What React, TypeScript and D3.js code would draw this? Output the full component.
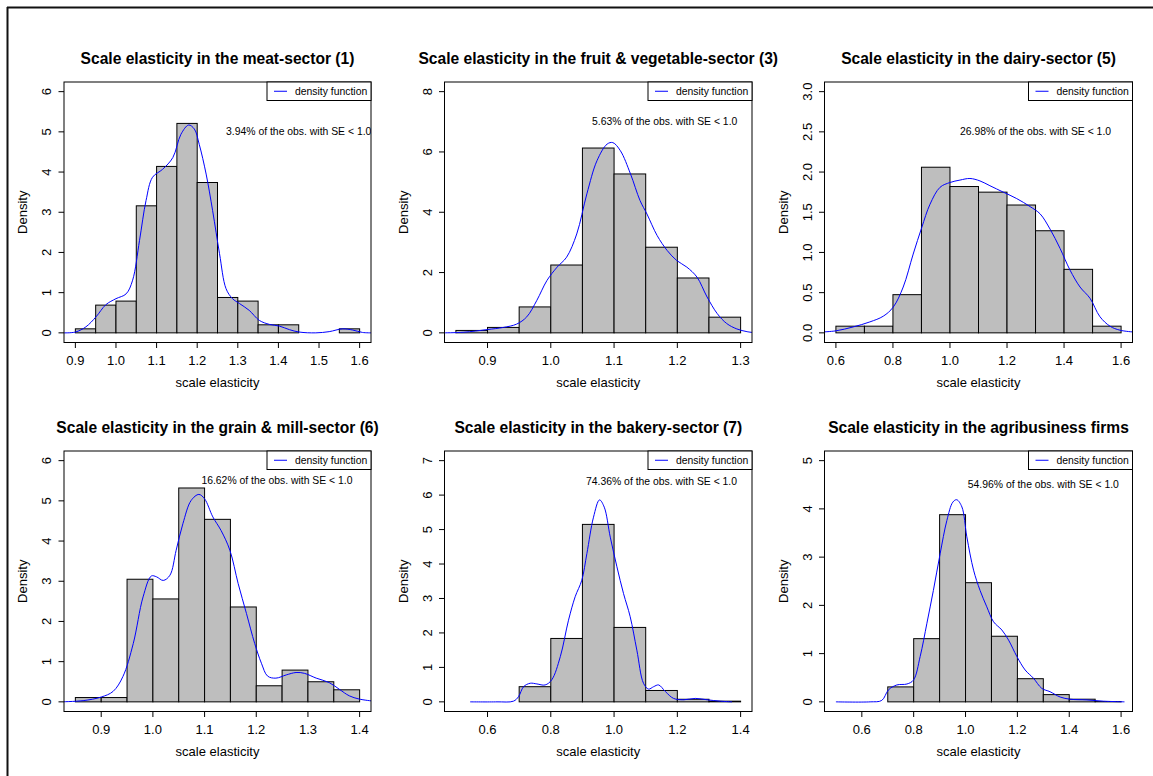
import React from 'react';
import * as d3 from 'd3';

// ---------- data ----------
const titles = [
  'Scale elasticity in the meat-sector (1)',
  'Scale elasticity in the fruit & vegetable-sector (3)',
  'Scale elasticity in the dairy-sector (5)',
  'Scale elasticity in the grain & mill-sector (6)',
  'Scale elasticity in the bakery-sector (7)',
  'Scale elasticity in the agribusiness firms',
];
const notes = [
  '3.94% of the obs. with SE < 1.0',
  '5.63% of the obs. with SE < 1.0',
  '26.98% of the obs. with SE < 1.0',
  '16.62% of the obs. with SE < 1.0',
  '74.36% of the obs. with SE < 1.0',
  '54.96% of the obs. with SE < 1.0',
];
const noteX = [1.45, 1.18, 1.3, 1.24, 1.15, 1.3];
const noteY = [5, 7, 2.5, 5.5, 6.4, 4.5];

const xLims = [[0.9, 1.6], [0.85, 1.3], [0.6, 1.6], [0.85, 1.4], [0.5, 1.4], [0.5, 1.6]];
const yLims = [[0, 6], [0, 8], [0, 3], [0, 6], [0, 7], [0, 5]];
const xTicks = [
  [0.9, 1.0, 1.1, 1.2, 1.3, 1.4, 1.5, 1.6],
  [0.9, 1.0, 1.1, 1.2, 1.3],
  [0.6, 0.8, 1.0, 1.2, 1.4, 1.6],
  [0.9, 1.0, 1.1, 1.2, 1.3, 1.4],
  [0.6, 0.8, 1.0, 1.2, 1.4],
  [0.6, 0.8, 1.0, 1.2, 1.4, 1.6],
];
const yTicks = [
  [0, 1, 2, 3, 4, 5, 6],
  [0, 2, 4, 6, 8],
  [0.0, 0.5, 1.0, 1.5, 2.0, 2.5, 3.0],
  [0, 1, 2, 3, 4, 5, 6],
  [0, 1, 2, 3, 4, 5, 6, 7],
  [0, 1, 2, 3, 4, 5],
];
const yTickFormats = ['d', 'd', '.1f', 'd', 'd', 'd'];

// histogram breaks (bin edges) and densities
const meatBreaks = [0.9, 0.95, 1.0, 1.05, 1.1, 1.15, 1.2, 1.25, 1.3, 1.35, 1.4, 1.45, 1.5, 1.55, 1.6];
const meatDensity = [0.1, 0.69, 0.79, 3.16, 4.14, 5.21, 3.74, 0.88, 0.79, 0.2, 0.2, 0, 0, 0.1];
const fruitBreaks = [0.85, 0.9, 0.95, 1.0, 1.05, 1.1, 1.15, 1.2, 1.25, 1.3];
const fruitDensity = [0.08, 0.18, 0.86, 2.25, 6.13, 5.27, 2.84, 1.82, 0.52];
const dairyBreaks = [0.6, 0.7, 0.8, 0.9, 1.0, 1.1, 1.2, 1.3, 1.4, 1.5, 1.6];
const dairyDensity = [0.083, 0.083, 0.475, 2.06, 1.82, 1.75, 1.59, 1.27, 0.79, 0.083];
const grainBreaks = [0.85, 0.9, 0.95, 1.0, 1.05, 1.1, 1.15, 1.2, 1.25, 1.3, 1.35, 1.4];
const grainDensity = [0.107, 0.107, 3.05, 2.56, 5.32, 4.54, 2.36, 0.4, 0.79, 0.5, 0.3];
const bakeryBreaks = [0.5, 0.6, 0.7, 0.8, 0.9, 1.0, 1.1, 1.2, 1.3, 1.4];
const bakeryDensity = [0, 0, 0.44, 1.84, 5.15, 2.16, 0.33, 0.075, 0.02];
const agriBreaks = [0.5, 0.6, 0.7, 0.8, 0.9, 1.0, 1.1, 1.2, 1.3, 1.4, 1.5, 1.6];
const agriDensity = [0, 0, 0.31, 1.31, 3.88, 2.47, 1.36, 0.48, 0.15, 0.055, 0.006];

// kernel density curves
const meatCurve = [
  [0.87, 0], [0.9, 0.02], [0.926, 0.15], [0.951, 0.4], [0.975, 0.7], [1.0, 0.85], [1.025, 0.97],
  [1.041, 1.31], [1.058, 2.3], [1.074, 3.29], [1.09, 3.87], [1.115, 4.07], [1.14, 4.36], [1.16, 4.94],
  [1.179, 5.17], [1.193, 5.07], [1.205, 4.69], [1.222, 3.95], [1.238, 3.04], [1.255, 1.97], [1.271, 1.1],
  [1.287, 0.85], [1.304, 0.73], [1.328, 0.56], [1.353, 0.31], [1.378, 0.21], [1.402, 0.17], [1.427, 0.08],
  [1.451, 0.02], [1.492, 0.0], [1.525, 0.03], [1.558, 0.1], [1.583, 0.07], [1.607, 0.01], [1.63, 0],
];
const fruitCurve = [
  [0.83, 0], [0.862, 0.02], [0.9, 0.11], [0.925, 0.18], [0.946, 0.29], [0.962, 0.53], [0.978, 1.08],
  [0.994, 1.74], [1.01, 2.18], [1.025, 2.51], [1.041, 3.28], [1.057, 4.61], [1.073, 5.71], [1.089, 6.26],
  [1.098, 6.31], [1.11, 6.04], [1.126, 5.27], [1.141, 4.39], [1.152, 3.94], [1.168, 3.23], [1.184, 2.73],
  [1.199, 2.4], [1.215, 2.18], [1.231, 1.85], [1.247, 1.19], [1.263, 0.64], [1.278, 0.31], [1.294, 0.13],
  [1.31, 0.04], [1.32, 0.01],
];
const dairyCurve = [
  [0.55, 0.01], [0.6, 0.025], [0.661, 0.074], [0.719, 0.136], [0.766, 0.207], [0.801, 0.32], [0.836, 0.57],
  [0.871, 0.98], [0.901, 1.31], [0.93, 1.6], [0.965, 1.81], [1.0, 1.87], [1.035, 1.9], [1.07, 1.92],
  [1.105, 1.89], [1.14, 1.83], [1.187, 1.75], [1.234, 1.67], [1.281, 1.57], [1.316, 1.48], [1.351, 1.29],
  [1.386, 1.05], [1.421, 0.78], [1.456, 0.57], [1.491, 0.43], [1.526, 0.2], [1.561, 0.083], [1.596, 0.033],
  [1.645, 0.01],
];
const grainCurve = [
  [0.82, 0], [0.865, 0.03], [0.9, 0.12], [0.923, 0.26], [0.942, 0.63], [0.962, 1.45], [0.981, 2.61],
  [0.997, 3.13], [1.007, 3.11], [1.02, 3.02], [1.033, 3.15], [1.045, 3.77], [1.058, 4.43], [1.074, 5.01],
  [1.089, 5.16], [1.1, 5.05], [1.116, 4.6], [1.132, 4.26], [1.149, 3.77], [1.165, 2.94], [1.181, 2.2],
  [1.197, 1.45], [1.21, 0.96], [1.222, 0.64], [1.238, 0.59], [1.258, 0.67], [1.277, 0.73], [1.293, 0.71],
  [1.316, 0.59], [1.341, 0.48], [1.361, 0.31], [1.38, 0.15], [1.399, 0.07], [1.425, 0.02],
];
const bakeryCurve = [
  [0.545, 0], [0.63, 0], [0.682, 0.02], [0.698, 0.15], [0.714, 0.44], [0.735, 0.54], [0.756, 0.52],
  [0.782, 0.49], [0.803, 0.64], [0.83, 1.31], [0.856, 2.37], [0.877, 3.05], [0.898, 3.53], [0.914, 4.3],
  [0.935, 5.36], [0.954, 5.86], [0.969, 5.65], [0.988, 4.78], [1.009, 3.92], [1.03, 3.14], [1.051, 2.47],
  [1.072, 1.5], [1.093, 0.54], [1.109, 0.37], [1.125, 0.44], [1.141, 0.49], [1.162, 0.3], [1.188, 0.1],
  [1.22, 0.06], [1.257, 0.1], [1.294, 0.06], [1.336, 0.02], [1.373, 0],
];
const agriCurve = [
  [0.5, 0], [0.632, 0], [0.677, 0.03], [0.703, 0.25], [0.735, 0.35], [0.774, 0.37], [0.799, 0.45],
  [0.825, 0.94], [0.851, 1.63], [0.876, 2.31], [0.902, 3.07], [0.928, 3.76], [0.951, 4.14], [0.966, 4.19],
  [0.986, 4.04], [1.005, 3.42], [1.031, 2.73], [1.056, 2.31], [1.082, 1.97], [1.108, 1.66], [1.14, 1.49],
  [1.166, 1.28], [1.198, 0.94], [1.23, 0.66], [1.262, 0.49], [1.294, 0.28], [1.326, 0.21], [1.365, 0.1],
  [1.403, 0.055], [1.468, 0.04], [1.532, 0.014], [1.613, 0],
];

const allBreaks = [meatBreaks, fruitBreaks, dairyBreaks, grainBreaks, bakeryBreaks, agriBreaks];
const allDensity = [meatDensity, fruitDensity, dairyDensity, grainDensity, bakeryDensity, agriDensity];
const allCurves = [meatCurve, fruitCurve, dairyCurve, grainCurve, bakeryCurve, agriCurve];

const legendLabel = 'density function';
const xLabel = 'scale elasticity';
const yLabel = 'Density';

// ---------- layout ----------
const W = 1153;
const H = 776;
const boxes = [
  { x0: 64, x1: 371, y0: 82, y1: 342.5 },
  { x0: 444.5, x1: 752, y0: 82, y1: 342.5 },
  { x0: 824.5, x1: 1132.5, y0: 82, y1: 342.5 },
  { x0: 64, x1: 371, y0: 451, y1: 711.5 },
  { x0: 444.5, x1: 752, y0: 451, y1: 711.5 },
  { x0: 824.5, x1: 1132.5, y0: 451, y1: 711.5 },
];
const FONT = '"Liberation Sans", Arial, Helvetica, sans-serif';

function ext(l: number[]) {
  const d = (l[1] - l[0]) * 0.04;
  return [l[0] - d, l[1] + d];
}

function Panel({ i }: { i: number }) {
  const b = boxes[i];
  const x = d3.scaleLinear().domain(ext(xLims[i])).range([b.x0, b.x1]);
  const y = d3.scaleLinear().domain(ext(yLims[i])).range([b.y1, b.y0]);
  const br = allBreaks[i];
  const dens = allDensity[i];
  const line = d3
    .line<number[]>()
    .x((d) => x(d[0]))
    .y((d) => y(d[1]))
    .curve(d3.curveCatmullRom.alpha(0.5));
  const clipId = `clip${i}`;
  const yf = d3.format(yTickFormats[i]);
  const xf = d3.format('.1f');
  const cx = (b.x0 + b.x1) / 2;
  const cy = (b.y0 + b.y1) / 2;
  const lw = 104;
  const lh = 18.5;
  return (
    <g>
      <defs>
        <clipPath id={clipId}>
          <rect x={b.x0} y={b.y0} width={b.x1 - b.x0} height={b.y1 - b.y0} />
        </clipPath>
      </defs>
      <text x={cx} y={b.y0 - 24} textAnchor="middle" dominantBaseline="central" fontFamily={FONT} fontWeight="bold" fontSize={15.6} fill="#000">
        {titles[i]}
      </text>
      {dens.map((d, k) => (
        <rect
          key={k}
          x={x(br[k])}
          y={y(d)}
          width={x(br[k + 1]) - x(br[k])}
          height={y(0) - y(d)}
          fill="#BEBEBE"
          stroke="#000"
          strokeWidth={1}
        />
      ))}
      <g clipPath={`url(#${clipId})`}>
        <path d={line(allCurves[i] as number[][]) || ''} fill="none" stroke="#0000FF" strokeWidth={1} />
        <text x={x(noteX[i])} y={y(noteY[i])} textAnchor="middle" dominantBaseline="central" fontFamily={FONT} fontSize={10.4} fill="#000">
          {notes[i]}
        </text>
      </g>
      <rect x={b.x0} y={b.y0} width={b.x1 - b.x0} height={b.y1 - b.y0} fill="none" stroke="#000" strokeWidth={1} />
      {/* legend */}
      <rect x={b.x1 - lw} y={b.y0} width={lw} height={lh} fill="#fff" stroke="#000" strokeWidth={1} />
      <line x1={b.x1 - 97} x2={b.x1 - 84} y1={b.y0 + lh / 2} y2={b.y0 + lh / 2} stroke="#0000FF" strokeWidth={1} />
      <text x={b.x1 - 76} y={b.y0 + lh / 2} dominantBaseline="central" fontFamily={FONT} fontSize={10.4} fill="#000">
        {legendLabel}
      </text>
      {/* x axis */}
      {xTicks[i].map((t) => (
        <g key={'x' + t}>
          <line x1={x(t)} x2={x(t)} y1={b.y1} y2={b.y1 + 5.5} stroke="#000" strokeWidth={1} />
          <text x={x(t)} y={b.y1 + 17.5} textAnchor="middle" dominantBaseline="central" fontFamily={FONT} fontSize={13} fill="#000">
            {xf(t)}
          </text>
        </g>
      ))}
      <text x={cx} y={b.y1 + 40} textAnchor="middle" dominantBaseline="central" fontFamily={FONT} fontSize={13} fill="#000">
        {xLabel}
      </text>
      {/* y axis */}
      {yTicks[i].map((t) => (
        <g key={'y' + t}>
          <line x1={b.x0 - 5.5} x2={b.x0} y1={y(t)} y2={y(t)} stroke="#000" strokeWidth={1} />
          <text
            transform={`translate(${b.x0 - 17.5},${y(t)}) rotate(-90)`}
            textAnchor="middle"
            dominantBaseline="central"
            fontFamily={FONT}
            fontSize={13}
            fill="#000"
          >
            {yf(t)}
          </text>
        </g>
      ))}
      <text
        transform={`translate(${b.x0 - 41.5},${cy}) rotate(-90)`}
        textAnchor="middle"
        dominantBaseline="central"
        fontFamily={FONT}
        fontSize={13}
        fill="#000"
      >
        {yLabel}
      </text>
    </g>
  );
}

export default function App() {
  return (
    <svg
      width={W}
      height={H}
      viewBox={`0 0 ${W} ${H}`}
      style={{ position: 'absolute', left: 0, top: 0, background: '#fff' }}
    >
      <rect x={0} y={0} width={W} height={H} fill="#fff" />
      <line x1={7} x2={W} y1={7.5} y2={7.5} stroke="#111" strokeWidth={2} />
      <line x1={7.5} x2={7.5} y1={7} y2={H} stroke="#111" strokeWidth={2} />
      {titles.map((_, i) => (
        <Panel key={i} i={i} />
      ))}
    </svg>
  );
}
